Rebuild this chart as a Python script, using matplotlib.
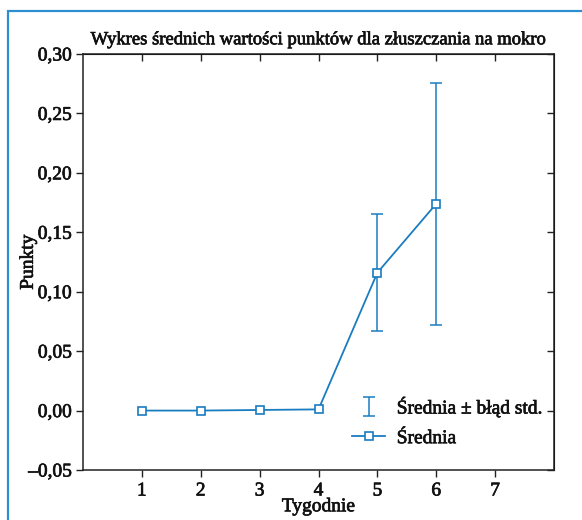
import numpy as np
import matplotlib.pyplot as plt
import matplotlib.patheffects as pe
from matplotlib.patches import Rectangle

plt.rcParams['font.family'] = ['Liberation Serif', 'DejaVu Serif']

# Mean scores per week with standard error
weeks = [1, 2, 3, 4, 5, 6]
means = [0.0, 0.0, 0.0005, 0.001, 0.116, 0.174]
std_err = [0.0, 0.0, 0.0, 0.0, 0.049, 0.102]

xticks = [1, 2, 3, 4, 5, 6, 7]
yticks = [-0.05, 0.0, 0.05, 0.10, 0.15, 0.20, 0.25, 0.30]

blue = '#1a7cc1'
# slightly heavier text strokes
heavy = [pe.withStroke(linewidth=0.5, foreground='#111111')]

fig = plt.figure(figsize=(5.82, 5.20), dpi=100)
ax = fig.add_axes([83/582, 50/520, 471/582, 416/520])

# blue frame around the whole figure
fig.patches.append(Rectangle((8/582, -0.2), 1.2, 1.2 - 11/520, transform=fig.transFigure,
                             fill=False, edgecolor='#2e8fd0', linewidth=1.6))

w = np.array(weeks)
m = np.array(means)
e = np.array(std_err)
sel = e > 0
eb = ax.errorbar(w[sel], m[sel], yerr=e[sel], fmt='none', ecolor=blue,
                 elinewidth=1.1, capsize=4.5, capthick=1.1,
                 label='Średnia ± błąd std.')
ln, = ax.plot(weeks, means, color=blue, linewidth=1.3, marker='s', markersize=6,
              markerfacecolor='white', markeredgecolor=blue, markeredgewidth=1.2,
              label='Średnia', zorder=3)

ax.set_xlim(0, 8)
ax.set_ylim(-0.05, 0.30)
ax.set_xticks(xticks)
ax.set_yticks(yticks)
ax.set_yticklabels([('%.2f' % v).replace('.', ',').replace('-', '–') for v in yticks])
ax.tick_params(axis='both', which='both', direction='out', length=5, width=1,
               labelsize=14, color='#222222', labelcolor='#111111')
ax.tick_params(axis='y', pad=3)
ax.tick_params(axis='x', pad=4)

# inward ticks on top and right
top = ax.secondary_xaxis('top')
top.set_xticks(xticks)
top.tick_params(direction='in', length=5, width=1, labeltop=False, color='#222222')
right = ax.secondary_yaxis('right')
right.set_yticks(yticks)
right.tick_params(direction='in', length=5, width=1, labelright=False, color='#222222')

for s in ax.spines.values():
    s.set_linewidth(1.1)
    s.set_color('#222222')

ax.set_title('Wykres średnich wartości punktów dla złuszczania na mokro', fontsize=13.4,
             pad=7, color='#111111', path_effects=heavy)
ax.set_xlabel('Tygodnie', fontsize=14, color='#111111', path_effects=heavy)
ax.set_ylabel('Punkty', fontsize=14, color='#111111', path_effects=heavy)
ax.xaxis.set_label_coords(0.5, -0.068)
ax.yaxis.set_label_coords(-0.098, 0.5)

for t in ax.get_xticklabels() + ax.get_yticklabels():
    t.set_path_effects(heavy)

leg = ax.legend(handles=[eb, ln], loc='upper left', bbox_to_anchor=(352/582, 1 - 397/520),
                bbox_transform=fig.transFigure, frameon=False, fontsize=14,
                borderpad=0, borderaxespad=0, handlelength=1.7, handletextpad=0.6,
                labelspacing=0.62)
for t in leg.get_texts():
    t.set_color('#111111')
    t.set_path_effects(heavy)

fig.savefig('out.png', dpi=100)
